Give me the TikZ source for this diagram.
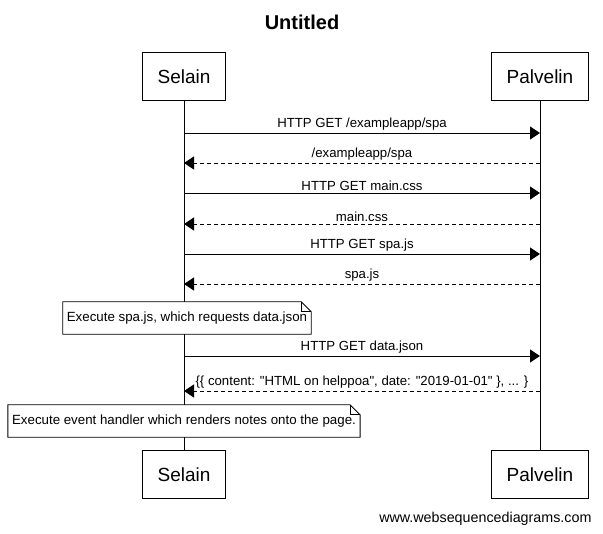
\documentclass[tikz,border=0pt]{standalone}
\usepackage{fontspec}
\setmainfont{Liberation Sans}
\newfontfamily\plainsans{Liberation Sans}
\usetikzlibrary{arrows.meta}
\tikzset{
    actor/.style={draw, line width=1pt, minimum height=48pt, inner xsep=15pt, font=\fontsize{19}{21}\selectfont},
    msg/.style={line width=0.8pt, -{Triangle[length=10pt,width=13pt]}},
    reply/.style={msg, dash pattern=on 4pt off 3pt},
    lbl/.style={above, inner sep=2pt, font=\fontsize{13.2}{15}\selectfont},
    note/.style={inner xsep=4pt, minimum height=32pt, font=\fontsize{13.3}{15}\selectfont}
}
\begin{document}
\begin{tikzpicture}[x=1pt, y=-1pt]
            \useasboundingbox (0,0) rectangle (603,534);
            \node [font=\bfseries\fontsize{20}{22}\selectfont] (title) at (302,22) {Untitled};
            \node [actor] (selain) at (184,77) {Selain};
            \node [actor] (palvelin) at (540,77) {Palvelin};
            \node [actor] (selainb) at (184,475) {Selain};
            \node [actor] (palvelinb) at (540,475) {Palvelin};
            \draw [line width=0.8pt] (selain.south) -- (selainb.north);
            \draw [line width=0.8pt] (palvelin.south) -- (palvelinb.north);
            \foreach \y [count=\i] in {133,163,193,224,254,284,356,391} {
                \coordinate (s\i) at (184,\y);
                \coordinate (p\i) at (540,\y);
            }
            \draw [msg] (s1) -- node [lbl] {HTTP GET /exampleapp/spa} (p1);
            \draw [reply] (p2) -- node [lbl] {/exampleapp/spa} (s2);
            \draw [msg] (s3) -- node [lbl] {HTTP GET main.css} (p3);
            \draw [reply] (p4) -- node [lbl] {main.css} (s4);
            \draw [msg] (s5) -- node [lbl] {HTTP GET spa.js} (p5);
            \draw [reply] (p6) -- node [lbl] {spa.js} (s6);
            \fill [white] (59,302) rectangle (316,334);
            \node [note] (exec) at (187,318) {Execute spa.js, which requests data.json\hspace{5pt}};
            \draw [line width=0.8pt] (exec.north west) -- ([xshift=-10pt]exec.north east) -- ([yshift=-10pt]exec.north east) -- (exec.south east) -- (exec.south west) -- cycle;
            \draw [line width=0.8pt] ([xshift=-10pt]exec.north east) -- ([xshift=-10pt,yshift=-10pt]exec.north east) -- ([yshift=-10pt]exec.north east);
            \draw [msg] (s7) -- node [lbl] {HTTP GET data.json} (p7);
            \draw [reply] (p8) -- node [lbl] {\plainsans \{\{ content: "HTML on helppoa", date: "2019-01-01" \}, ... \}} (s8);
            \fill [white] (10,405) rectangle (357,437);
            \node [note] (render) at (184,421) {Execute event handler which renders notes onto the page.\hspace{3pt}};
            \draw [line width=0.8pt] (render.north west) -- ([xshift=-10pt]render.north east) -- ([yshift=-10pt]render.north east) -- (render.south east) -- (render.south west) -- cycle;
            \draw [line width=0.8pt] ([xshift=-10pt]render.north east) -- ([xshift=-10pt,yshift=-10pt]render.north east) -- ([yshift=-10pt]render.north east);
            \node [anchor=east, font=\fontsize{14.3}{16}\selectfont] (wsd) at (595,519) {www.websequencediagrams.com};
        \end{tikzpicture}
\end{document}
